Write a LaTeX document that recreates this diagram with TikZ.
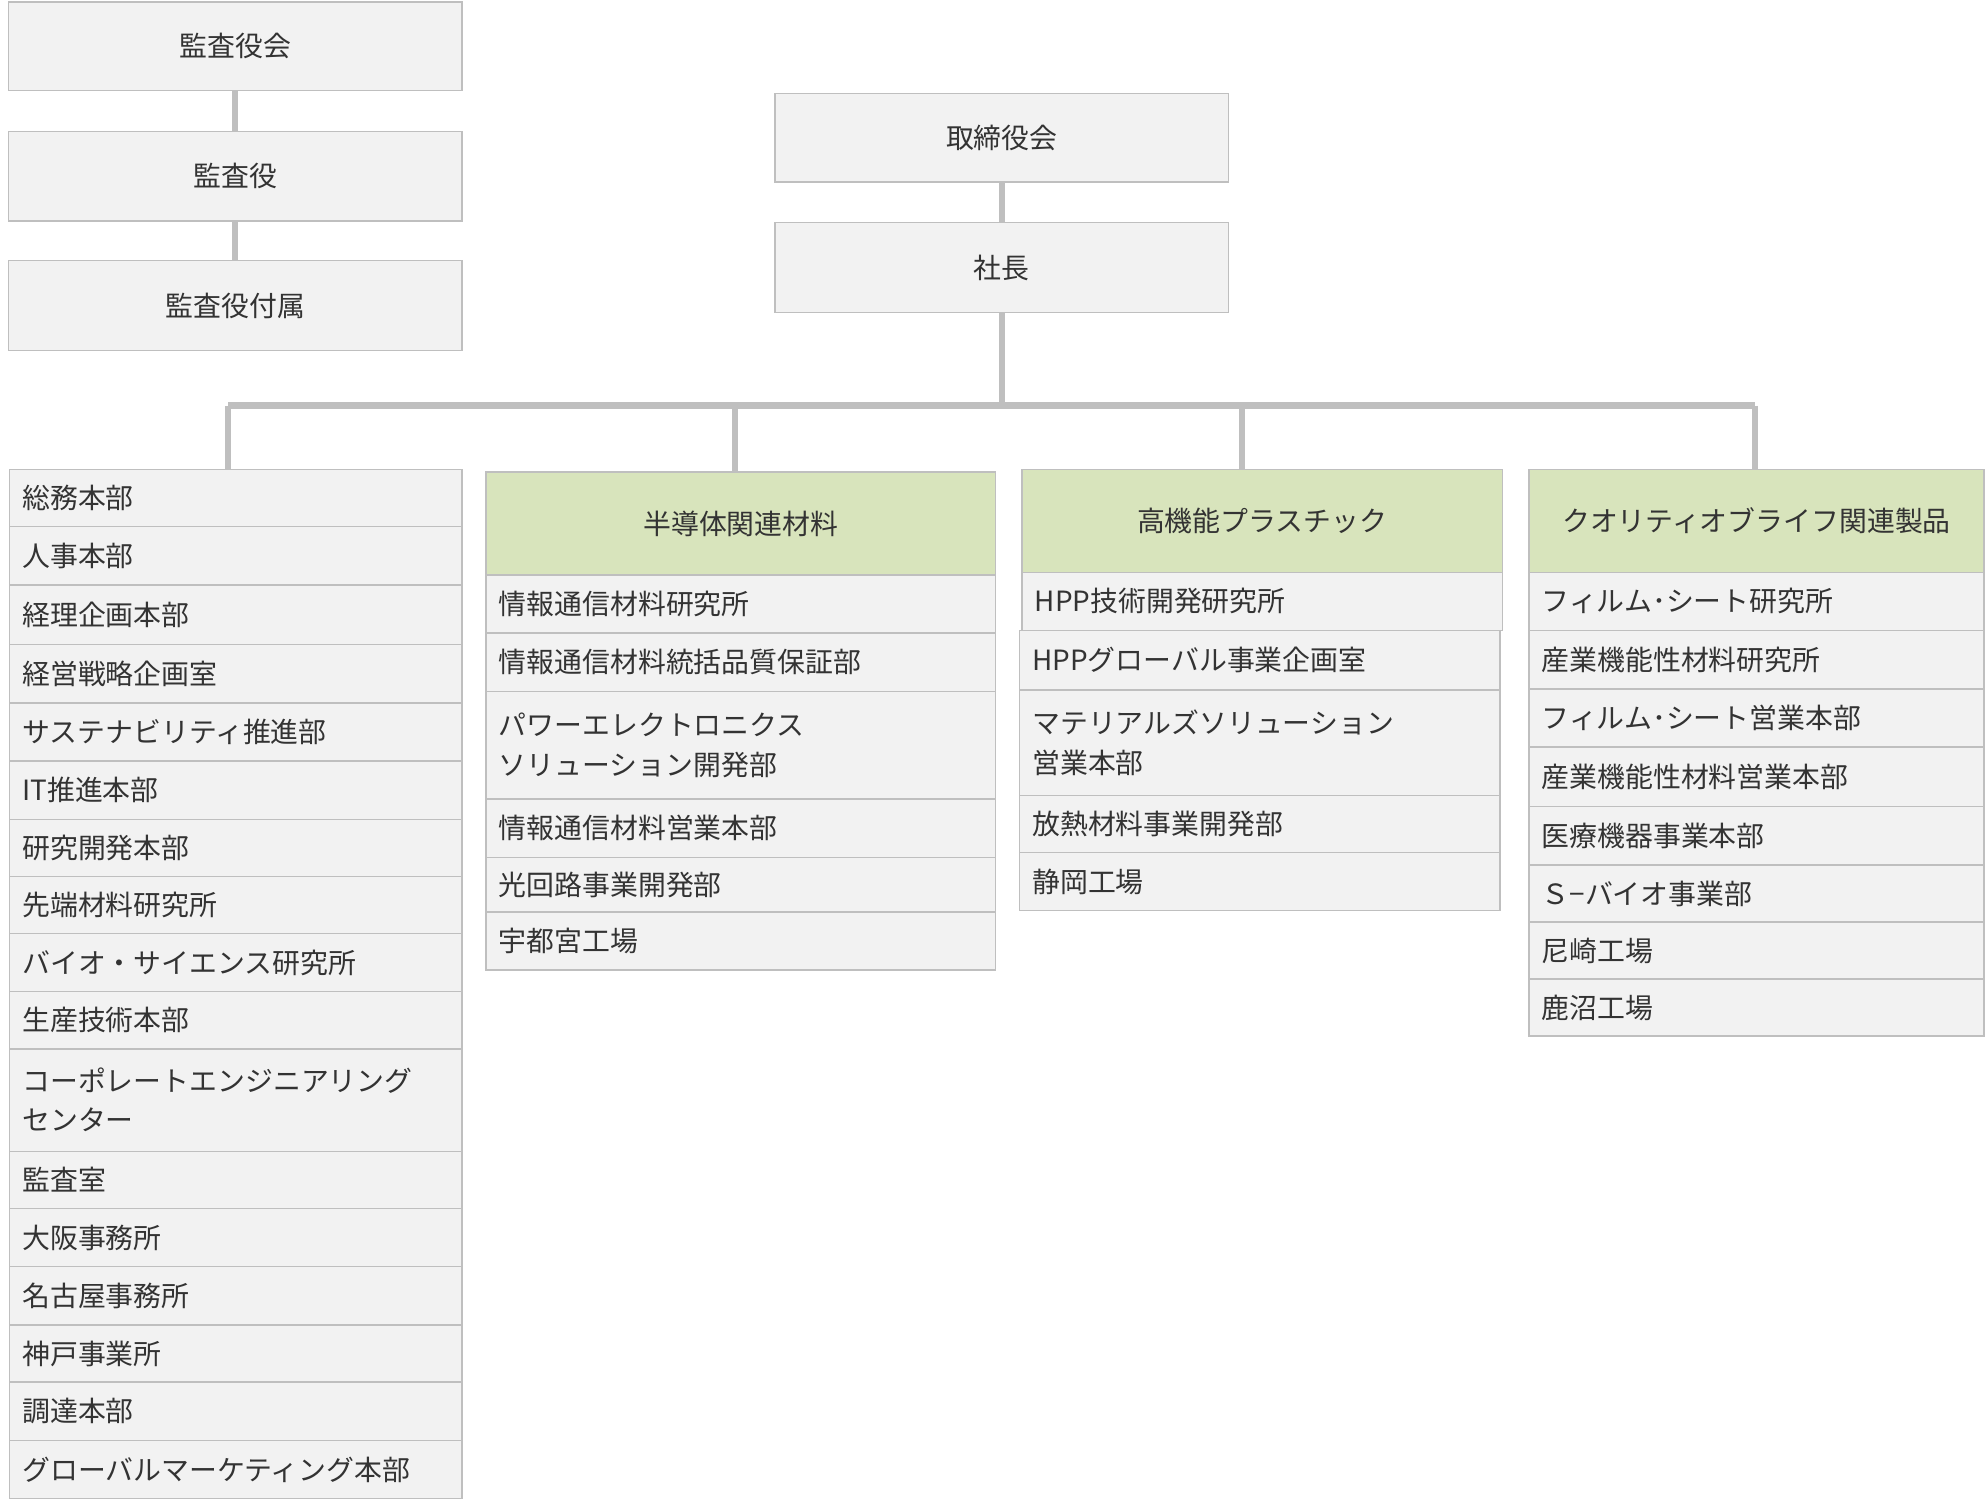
\documentclass[tikz,border=0pt]{standalone}
\usepackage{fontspec}
\setmainfont{Noto Sans CJK JP}
\begin{document}
\begin{tikzpicture}[x=1pt,y=1pt,
 bx/.style={draw=black!25,fill=black!5,line width=1.2pt,anchor=north west,inner xsep=10pt,inner ysep=0pt,text=black!80,font=\fontsize{22}{31}\selectfont,align=left},
 ct/.style={bx,align=center,text width=338pt},
 c1/.style={bx,text width=337pt},
 c2/.style={bx,text width=382pt},
 c3/.style={bx,text width=359pt},
 c4/.style={bx,text width=339pt},
 ln/.style={draw=black!25,line width=5pt}]
\useasboundingbox (0,0) rectangle (1568,-1190);
\definecolor{hdg}{HTML}{D8E4BC}
\tikzset{hd/.style={bx,fill=hdg,align=center}}
% top-left
\node[ct,minimum height=70pt] (k1) at (6,-1) {監査役会};
\node[ct,minimum height=71pt] (k2) at (6,-103) {監査役};
\node[ct,minimum height=71pt] (k3) at (6,-205) {監査役付属};
\draw[ln] (k1.south) -- (k2.north);
\draw[ln] (k2.south) -- (k3.north);
% top-center
\node[ct,minimum height=70pt] (t1) at (611,-73) {取締役会};
\node[ct,minimum height=71pt] (t2) at (611,-175) {社長};
\draw[ln] (t1.south) -- (t2.north);
% column 1
\newcommand\row[6]{\node[#1,minimum height=#5pt] (#2) at (#3,-#4) {#6};}
\row{c1}{a1}{7}{370}{45}{総務本部}
\row{c1}{a2}{7}{415}{46}{人事本部}
\row{c1}{a3}{7}{461}{47}{経理企画本部}
\row{c1}{a4}{7}{508}{46}{経営戦略企画室}
\row{c1}{a5}{7}{554}{46}{サステナビリティ推進部}
\row{c1}{a6}{7}{600}{46}{IT推進本部}
\row{c1}{a7}{7}{646}{45}{研究開発本部}
\row{c1}{a8}{7}{691}{45}{先端材料研究所}
\row{c1}{a9}{7}{736}{46}{バイオ・サイエンス研究所}
\row{c1}{a10}{7}{782}{45}{生産技術本部}
\row{c1}{a11}{7}{827}{81}{コーポレートエンジニアリング\\センター}
\row{c1}{a12}{7}{908}{45}{監査室}
\row{c1}{a13}{7}{953}{46}{大阪事務所}
\row{c1}{a14}{7}{999}{46}{名古屋事務所}
\row{c1}{a15}{7}{1045}{45}{神戸事業所}
\row{c1}{a16}{7}{1090}{46}{調達本部}
\row{c1}{a17}{7}{1136}{46}{グローバルマーケティング本部}
% column 2
\node[hd,text width=382pt,minimum height=81pt] (h2) at (383,-372) {半導体関連材料};
\row{c2}{b1}{383}{453}{46}{情報通信材料研究所}
\row{c2}{b2}{383}{499}{46}{情報通信材料統括品質保証部}
\row{c2}{b3}{383}{545}{85}{パワーエレクトロニクス\\ソリューション開発部}
\row{c2}{b4}{383}{630}{46}{情報通信材料営業本部}
\row{c2}{b5}{383}{676}{43}{光回路事業開発部}
\row{c2}{b6}{383}{719}{46}{宇都宮工場}
% column 3
\node[hd,text width=359pt,minimum height=81pt] (h3) at (806,-370) {高機能プラスチック};
\row{c3}{d1}{806}{451}{46}{HPP技術開発研究所}
\row{c3}{d2}{804}{497}{47}{HPPグローバル事業企画室}
\row{c3}{d3}{804}{544}{83}{マテリアルズソリューション\\営業本部}
\row{c3}{d4}{804}{627}{45}{放熱材料事業開発部}
\row{c3}{d5}{804}{672}{46}{静岡工場}
% column 4
\node[hd,text width=339pt,minimum height=81pt] (h4) at (1206,-370) {クオリティオブライフ関連製品};
\row{c4}{e1}{1206}{451}{46}{フィルム･シート研究所}
\row{c4}{e2}{1206}{497}{46}{産業機能性材料研究所}
\row{c4}{e3}{1206}{543}{46}{フィルム･シート営業本部}
\row{c4}{e4}{1206}{589}{47}{産業機能性材料営業本部}
\row{c4}{e5}{1206}{636}{46}{医療機器事業本部}
\row{c4}{e6}{1206}{682}{45}{Ｓ−バイオ事業部}
\row{c4}{e7}{1206}{727}{45}{尼崎工場}
\row{c4}{e8}{1206}{772}{45}{鹿沼工場}
% tree
\coordinate (j) at ([yshift=-74pt]t2.south);
\coordinate (j1) at (180,-320);
\coordinate (j2) at (580,-320);
\coordinate (j3) at (980,-320);
\coordinate (j4) at (1385,-320);
\draw[ln] (t2.south) -- (j);
\draw[ln] (j1) -- (j4);
\draw[ln] (j1) -- (j1 |- a1.north);
\draw[ln] (j2) -- (j2 |- h2.north);
\draw[ln] (j3) -- (j3 |- h3.north);
\draw[ln] (j4) -- (j4 |- h4.north);
\end{tikzpicture}
\end{document}
